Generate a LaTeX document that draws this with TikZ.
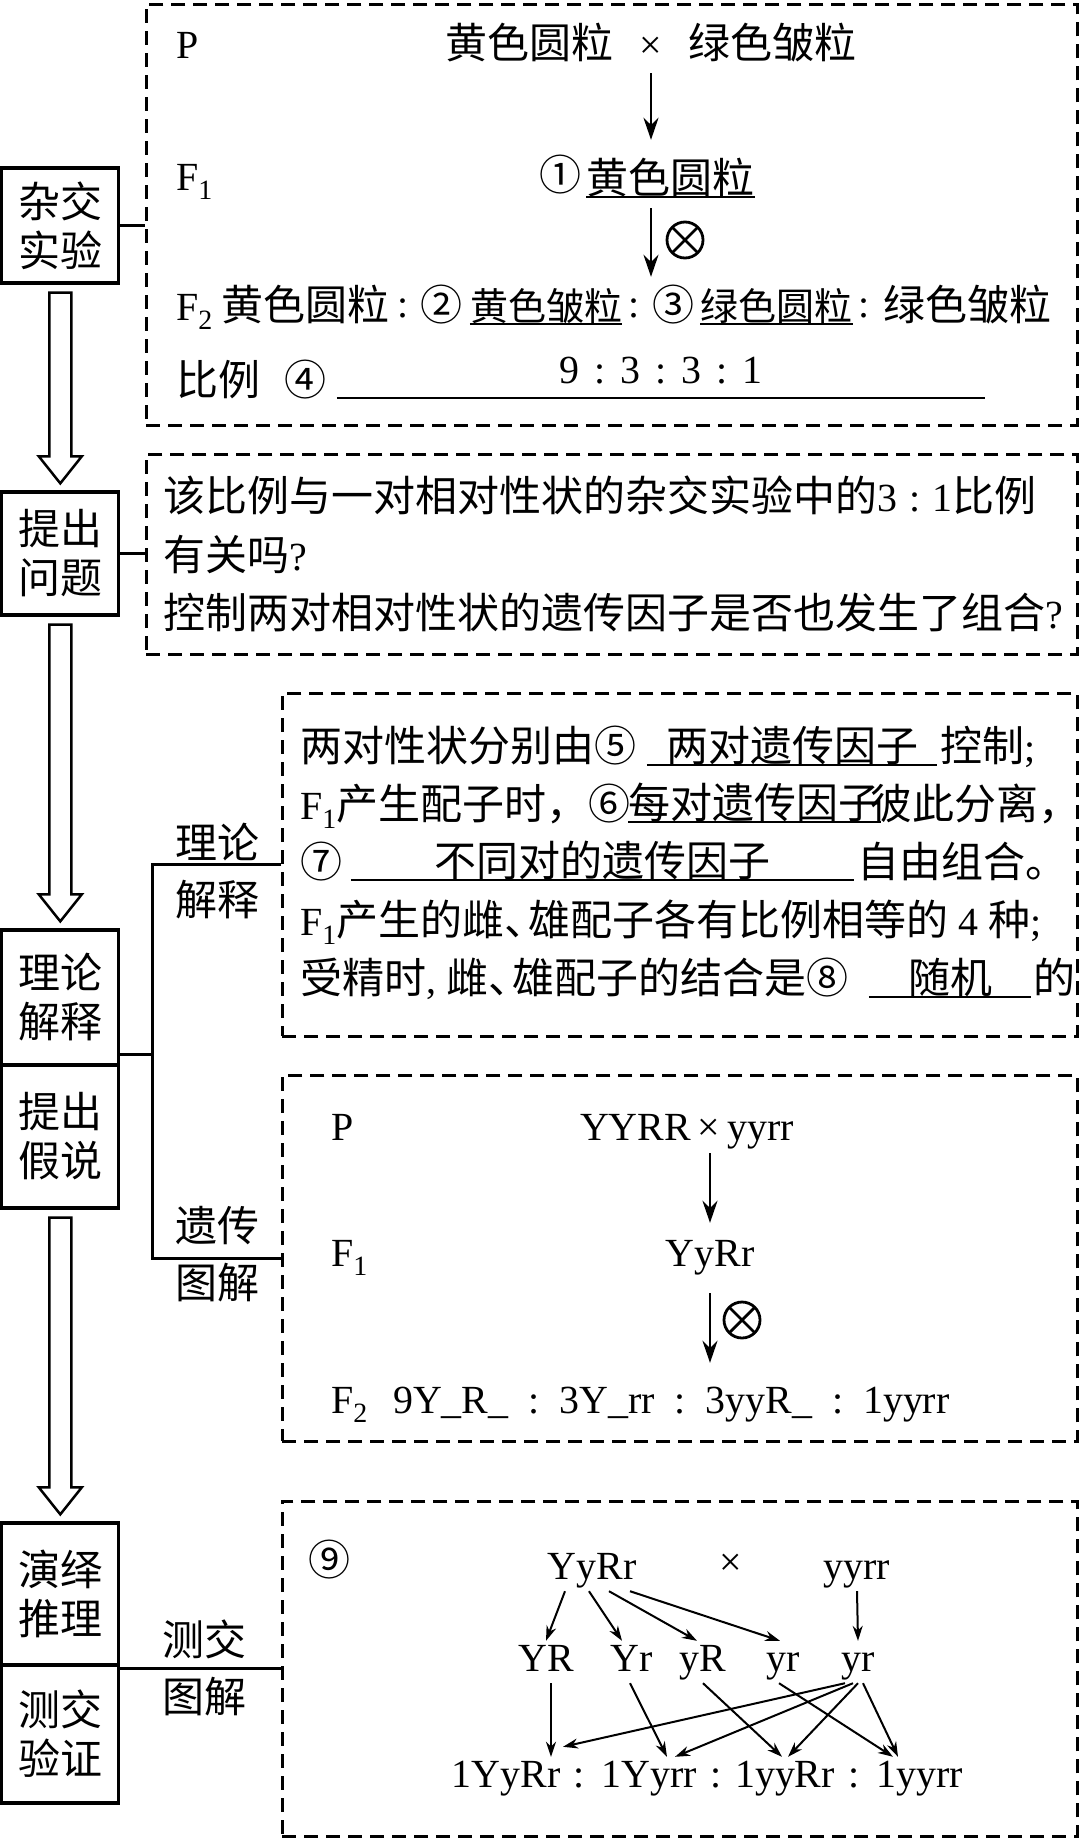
\documentclass[tikz,border=0pt]{standalone}
\usepackage{fontspec}
\setmainfont{Noto Sans CJK SC}
\newfontfamily\lat[Scale=0.95]{Liberation Serif}
\usetikzlibrary{arrows.meta,calc}

\newcommand*{\halfcomma}{\makebox[24pt][l]{、}}

\begin{document}
\begin{tikzpicture}
[
	x=1pt, y=-1pt,
	font=\fontsize{42pt}{49pt}\selectfont,
	stage/.style={draw,line width=3.3pt,minimum width=117pt,align=center,inner sep=0pt},
	dashbox/.style={draw,line width=2.6pt,dash pattern=on 14pt off 8pt,inner sep=0pt,anchor=north west},
	link/.style={line width=3pt},
	hollow/.style={line width=2.5pt,line join=miter},
	side/.style={align=center,inner sep=0pt,font=\fontsize{42pt}{57pt}\selectfont},
	txt/.style={inner sep=0pt,text height=32pt,text depth=6pt,anchor=base west},
	ans/.style={inner sep=0pt,text height=32pt,text depth=6pt,anchor=base},
	small/.style={font=\fontsize{38pt}{45pt}\selectfont},
	uline/.style={line width=2.4pt},
	arr/.style={line width=2.6pt,-{Stealth[length=22pt,width=15pt]}},
	thinarr/.style={line width=2pt,-{Stealth[length=15pt,width=10pt]}},
	gene/.style={inner sep=0pt,text height=30pt,text depth=12pt,anchor=base,font=\fontsize{42pt}{49pt}\selectfont\lat},
	selfing/.style={circle,draw,line width=2.8pt,minimum size=36pt,inner sep=0pt,
		path picture={\draw[line width=2.8pt]
			(path picture bounding box.north west) -- (path picture bounding box.south east)
			(path picture bounding box.north east) -- (path picture bounding box.south west);}}
]

	\useasboundingbox (0,0) rectangle (1080,1839);

	% steps on the left
	\node[stage,minimum height=115pt] (sCross) at (60.3,225.5) {杂交\\实验};
	\node[stage,minimum height=123pt] (sAsk) at (60.3,553.5) {提出\\问题};
	\node[stage,minimum height=135pt] (sTheory) at (60.3,997.5) {理论\\解释};
	\node[stage,minimum height=143pt] (sHypo) at (60.3,1136.5) {提出\\假说};
	\node[stage,minimum height=142pt] (sDeduce) at (60.3,1594) {演绎\\推理};
	\node[stage,minimum height=138pt] (sVerify) at (60.3,1734) {测交\\验证};

	\foreach \a/\b in {sCross/sAsk,sAsk/sTheory,sHypo/sDeduce} {
		\draw[hollow] ($(\a.south)+(-11,8)$) -- ($(\b.north)+(-11,-34)$) -- ($(\b.north)+(-21.5,-34)$)
			-- ($(\b.north)+(0,-7)$) -- ($(\b.north)+(21.5,-34)$) -- ($(\b.north)+(11,-34)$)
			-- ($(\a.south)+(11,8)$) -- cycle;
	}

	% dashed boxes
	\node[dashbox,minimum width=931pt,minimum height=421pt] (crossBox) at (145,3) {};
	\node[dashbox,minimum width=931pt,minimum height=200pt] (askBox) at (145,453) {};
	\node[dashbox,minimum width=795pt,minimum height=343pt] (explainBox) at (281,692) {};
	\node[dashbox,minimum width=795pt,minimum height=366pt] (diagramBox) at (281,1074) {};
	\node[dashbox,minimum width=795pt,minimum height=335pt] (testBox) at (281,1500) {};

	% connectors
	\draw[link] (sCross.east) -- (sCross.east -| crossBox.west);
	\draw[link] (sAsk.east) -- (sAsk.east -| askBox.west);
	\coordinate (fork) at (152,1054);
	\draw[link] (sTheory.east |- fork) -- (fork);
	\draw[link] (explainBox.west) -| (fork) |- (diagramBox.west);
	\draw[link] (testBox.west) -- (testBox.west -| sDeduce.east);

	\node[side] (lblTheory) at (217,871) {理论\\解释};
	\node[side] (lblGene) at (217,1254) {遗传\\图解};
	\node[side] (lblTest) at (204,1668) {测交\\图解};

	% cross experiment
	\node[txt] (pLab) at (176,58) {{\lat P}};
	\node[ans] (crossP) at (651,58) {黄色圆粒\hspace{26pt}{\lat ×}\hspace{26pt}绿色皱粒};
	\node[txt] (f1Lab) at (176,190) {{\lat F\textsubscript{1}}};
	\node[ans] (num1) at (560,190) {①};
	\node[ans,minimum width=167pt] (ans1) at (670.5,193) {黄色圆粒};
	\node[selfing] (self1) at (685,240) {};
	\node[txt] (f2Lab) at (176,320) {{\lat F\textsubscript{2}}};
	\node[txt] (f2Yr) at (221,320) {黄色圆粒};
	\node[ans] (num2) at (441,320) {②};
	\node[ans,small,minimum width=146pt] (ans2) at (546,320) {黄色皱粒};
	\node[ans] (num3) at (673,320) {③};
	\node[ans,small,minimum width=147pt] (ans3) at (776.5,320) {绿色圆粒};
	\node[txt] (f2gw) at (883,320) {绿色皱粒};
	\foreach \x [count=\i] in {403,634,864}
		\node[ans] (fcol\i) at (\x,317) {{\lat :}};
	\node[txt] (ratioLab) at (176,395) {比例};
	\node[ans] (num4) at (305,395) {④};
	\node[ans,minimum width=648pt] (ans4) at (661,394)
		{\raisebox{11pt}{\lat 9\hspace{15pt}:\hspace{15pt}3\hspace{15pt}:\hspace{15pt}3\hspace{15pt}:\hspace{15pt}1}\hspace{26pt}};

	\draw[arr,shorten <=9pt,shorten >=21pt] (crossP.south) -- (crossP.south |- ans1.north);
	\draw[arr,shorten <=9pt,shorten >=11pt] (crossP.south |- ans1.south) -- (crossP.south |- num3.north);

	% question
	\node[txt] (q1) at (163,511) {该比例与一对相对性状的杂交实验中的{\lat 3\hspace{12pt}:\hspace{12pt}1}比例};
	\node[txt] (q2) at (163,570) {有关吗{\lat ?}};
	\node[txt] (q3) at (163,628) {控制两对相对性状的遗传因子是否也发生了组合{\lat ?}};

	% explanation
	\node[txt] (r1a) at (300,761) {两对性状分别由⑤};
	\node[ans,minimum width=290pt] (ans5) at (792,761) {两对遗传因子};
	\node[txt] (r1b) at (940,761) {控制{\lat ;}};
	\node[txt] (r2a) at (300,819) {{\lat F\textsubscript{1}}产生配子时，⑥};
	\node[ans,minimum width=229pt] (ans6) at (754.5,818) {每对遗传因子};
	\node[txt] (r2b) at (870,819) {彼此分离，};
	\node[txt] (r3a) at (300,877) {⑦};
	\node[ans,minimum width=503pt] (ans7) at (602.5,876) {不同对的遗传因子\hspace{20pt}};
	\node[txt] (r3b) at (857,877) {自由组合。};
	\node[txt] (r4) at (300,935) {{\lat F\textsubscript{1}}产生的雌\halfcomma 雄配子各有比例相等的{\lat\ 4\ }种{\lat ;}};
	\node[txt] (r5a) at (300,993) {受精时{\lat ,\ }雌\halfcomma 雄配子的结合是⑧};
	\node[ans,minimum width=162pt] (ans8) at (950,993) {随机};
	\node[txt] (r5b) at (1033,993) {的};

	\foreach \n in {ans1,ans2,ans3,ans4,ans5,ans6,ans7,ans8}
		\draw[uline] ([yshift=-4pt]\n.base west) -- ([yshift=-4pt]\n.base east);

	% genetic diagram
	\node[txt] (pLabG) at (331,1140) {{\lat P}};
	\node[gene] (crossG) at (687,1140) {YYRR\hspace{7pt}×\hspace{7pt}yyrr};
	\node[txt] (f1LabG) at (331,1266) {{\lat F\textsubscript{1}}};
	\node[gene] (hybrid) at (710,1266) {YyRr};
	\node[selfing] (self2) at (742,1320) {};
	\node[txt] (f2LabG) at (331,1413) {{\lat F\textsubscript{2}}};
	\node[gene,anchor=base west] (ratioG) at (393,1413)
		{9Y\_R\_\enspace:\enspace 3Y\_rr\enspace:\enspace 3yyR\_\enspace:\enspace 1yyrr};

	\draw[arr,shorten <=1pt,shorten >=13pt] (crossG.south -| hybrid) -- (hybrid.north);
	\draw[arr,shorten <=15pt,shorten >=20pt] (hybrid.south) -- (hybrid.south |- ratioG.north);

	% test cross
	\node[ans] (num9) at (329,1575) {⑨};
	\node[gene] (pa) at (592,1579) {YyRr};
	\node[gene] (pcross) at (731,1575) {×};
	\node[gene] (pb) at (857,1579) {yyrr};
	\foreach \g/\x [count=\i] in {YR/546,Yr/632,yR/703,yr/783,yr/858}
		\node[gene] (g\i) at (\x,1671) {\g};
	\foreach \g/\x [count=\i] in {1YyRr/506,1Yyrr/649,1yyRr/785,1yyrr/920}
		\node[gene] (o\i) at (\x,1787) {\g};
	\foreach \x [count=\i] in {579,716,854}
		\node[gene] (oc\i) at (\x,1787) {:};

	\draw[thinarr] ([xshift=-27pt]pa.south) -- (g1.north);
	\draw[thinarr] ([xshift=-3pt]pa.south) -- ([xshift=-10pt]g2.north);
	\draw[thinarr] ([xshift=17pt]pa.south) -- ([xshift=-6pt]g3.north);
	\draw[thinarr] ([xshift=38pt]pa.south) -- ([xshift=-3pt]g4.north);
	\draw[thinarr] (pb.south) -- (g5.north);

	\draw[thinarr] ([xshift=5pt]g1.south) -- ([xshift=45pt]o1.north);
	\draw[thinarr] ([xshift=-2pt]g2.south) -- ([xshift=18pt]o2.north);
	\draw[thinarr] (g3.south) -- ([xshift=-3pt]o3.north);
	\draw[thinarr] ([xshift=-4pt]g4.south) -- ([xshift=-27pt]o4.north);
	\draw[thinarr] ([xshift=-13pt]g5.south) -- ([xshift=57pt,yshift=10pt]o1.north);
	\draw[thinarr] ([xshift=-5pt]g5.south) -- ([xshift=26pt]o2.north);
	\draw[thinarr] (g5.south) -- ([xshift=3pt]o3.north);
	\draw[thinarr] ([xshift=5pt]g5.south) -- ([xshift=-22pt]o4.north);

\end{tikzpicture}
\end{document}
